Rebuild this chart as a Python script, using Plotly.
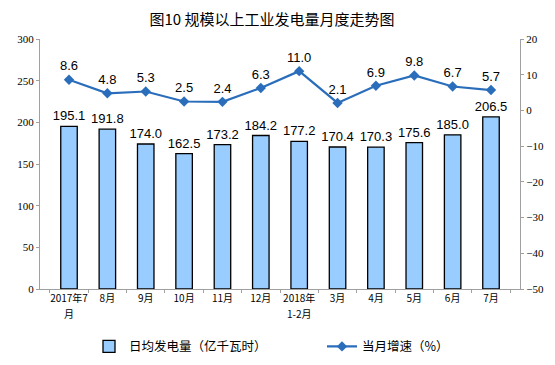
import plotly.graph_objects as go

categories = ["2017年7<br>月", "8月", "9月", "10月", "11月", "12月", "2018年<br>1-2月",
              "3月", "4月", "5月", "6月", "7月"]
daily_output = [195.1, 191.8, 174.0, 162.5, 173.2, 184.2, 177.2, 170.4, 170.3, 175.6, 185.0, 206.5]
growth = [8.6, 4.8, 5.3, 2.5, 2.4, 6.3, 11.0, 2.1, 6.9, 9.8, 6.7, 5.7]

first_lines = [c.split("<br>")[0] for c in categories]

fig = go.Figure()
fig.add_trace(go.Bar(
    x=categories, y=daily_output, name="日均发电量（亿千瓦时）",
    marker=dict(color="#99CCFF", line=dict(color="#000000", width=1.3)),
    width=0.43,
    text=[f"{v:.1f}" for v in daily_output], textposition="outside",
    constraintext="none",
    textfont=dict(family="Liberation Sans, Arial", size=13, color="#000"),
    cliponaxis=False,
))
fig.add_trace(go.Scatter(
    x=categories, y=growth, name="当月增速（%）", yaxis="y2",
    mode="lines+markers+text",
    line=dict(color="#2A6EBB", width=2.2),
    marker=dict(symbol="diamond", size=8, color="#2A6EBB"),
    text=[f"{v:.1f}" for v in growth], textposition="top center",
    textfont=dict(family="Liberation Sans, Arial", size=13, color="#000"),
    cliponaxis=False,
))

# second lines of two-line category labels
for c in categories:
    parts = c.split("<br>")
    if len(parts) > 1:
        fig.add_annotation(x=c, y=0, xref="x", yref="y", text=parts[1], showarrow=False,
                           yanchor="top", yshift=-15,
                           font=dict(family="Noto Sans CJK SC", size=10, color="#000"))

axis_common = dict(showline=True, linecolor="#A0A0A0", linewidth=1, ticks="outside",
                   ticklen=3, tickcolor="#A0A0A0", showgrid=False, zeroline=False,
                   automargin=False)

fig.update_layout(
    width=555, height=365,
    margin=dict(l=40, r=35, t=39, b=76),
    paper_bgcolor="white", plot_bgcolor="white",
    title=dict(text="图10 规模以上工业发电量月度走势图", x=0.49, xanchor="center", y=0.945, yanchor="middle",
               font=dict(family="Noto Sans CJK SC", size=15, color="#000")),
    font=dict(family="Noto Sans CJK SC", size=10, color="#000"),
    xaxis=dict(**axis_common, tickson="boundaries", tickangle=0,
               tickmode="array", tickvals=categories, ticktext=first_lines,
               tickfont=dict(family="Noto Sans CJK SC", size=10)),
    yaxis=dict(**axis_common, range=[0, 300], dtick=50,
               tickfont=dict(family="Liberation Serif, Times New Roman", size=11)),
    yaxis2=dict(**axis_common, range=[-50, 20], dtick=10, overlaying="y", side="right",
                tickfont=dict(family="Liberation Serif, Times New Roman", size=11)),
    legend=dict(orientation="h", x=0.14, xanchor="left", yref="container",
                y=0.05, yanchor="middle",
                font=dict(family="Noto Sans CJK SC", size=12.5), itemwidth=30,
                entrywidth=188, entrywidthmode="pixels",
                tracegroupgap=0, traceorder="normal"),
    showlegend=True,
)
fig.write_html("out.html", config={"displayModeBar": False})

with open("out.html", "r", encoding="utf-8") as f:
    html = f.read()
html = html.replace("<head>", "<head><style>html,body{margin:0;padding:0;}</style>", 1)
with open("out.html", "w", encoding="utf-8") as f:
    f.write(html)
